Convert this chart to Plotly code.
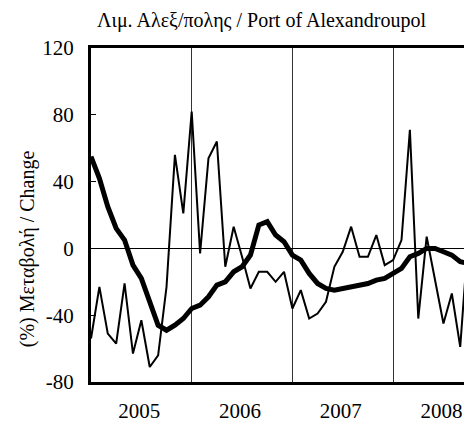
import plotly.graph_objects as go

# Monthly % change, Jan 2005 .. Oct 2008 (last points clipped by the frame)
monthly_change = [
    -54, -23, -51, -57, -21, -63, -43, -71, -64, -23, 56, 21,      # 2005
    82, -3, 54, 64, -11, 13, -5, -24, -14, -14, -20, -14,          # 2006
    -36, -25, -42, -39, -32, -11, -2, 13, -5, -5, 8, -10,          # 2007
    -7, 5, 71, -42, 7, -19, -45, -27, -59, 10,                     # 2008
]
moving_avg = [
    55, 42, 25, 12, 5, -10, -18, -33, -46, -49, -46, -42,          # 2005
    -36, -34, -29, -22, -20, -14, -11, -4, 14, 16, 8, 4,           # 2006
    -4, -7, -15, -21, -24, -25, -24, -23, -22, -21, -19, -18,      # 2007
    -15, -12, -5, -3, 0, 0, -2, -4, -8, -9,                        # 2008
]
year_labels = ["2005", "2006", "2007", "2008"]
first_year = 2005
y_ticks = [120, 80, 40, 0, -40, -80]
y_tick_text = ["120", "80", "40", "0", "-40", "-80"]

x_vals = [first_year + i / 12 for i in range(len(monthly_change))]
x_avg = [first_year + i / 12 for i in range(len(moving_avg))]

W, H = 464, 421
L, R, T, B = 91, 0, 47.5, 39

fig = go.Figure()
fig.add_trace(go.Scatter(x=x_vals, y=monthly_change, mode="lines",
                         line=dict(color="black", width=2), showlegend=False))
fig.add_trace(go.Scatter(x=x_avg, y=moving_avg, mode="lines",
                         line=dict(color="black", width=5), showlegend=False))

font_family = "Liberation Serif"
fig.update_layout(
    width=W, height=H,
    margin=dict(l=L, r=R, t=T, b=B, pad=0, autoexpand=False),
    paper_bgcolor="white", plot_bgcolor="white",
    font=dict(family=font_family, color="black", size=21),
    title=dict(text="Λιμ. Αλεξ/πολης / Port of Alexandroupol",
               x=97 / W, xanchor="left", xref="container",
               y=1 - 20 / H, yanchor="middle", yref="container",
               font=dict(family=font_family, size=20, color="black"),
               automargin=False),
)
fig.update_xaxes(
    range=[first_year, first_year + 373 / 100.7],
    tickmode="array",
    tickvals=[first_year + k + 0.48 for k in range(len(year_labels))],
    ticktext=year_labels,
    ticks="", showgrid=False, zeroline=False,
    showline=True, linecolor="black", linewidth=3, mirror=True,
    ticklabelstandoff=8, automargin=False, ticklabeloverflow="allow",
    minor=dict(tickmode="array",
               tickvals=[first_year + k for k in range(1, len(year_labels))],
               showgrid=True, gridcolor="#333333", gridwidth=1, ticks=""),
    tickfont=dict(size=21),
)
fig.update_yaxes(
    range=[-80, 120],
    tickmode="array", tickvals=y_ticks, ticktext=y_tick_text,
    ticks="inside", ticklen=5, tickwidth=1, tickcolor="black",
    showgrid=False,
    zeroline=True, zerolinecolor="black", zerolinewidth=1,
    showline=True, linecolor="black", linewidth=3, mirror=False,
    ticklabelstandoff=10, automargin=False,
    tickfont=dict(size=21),
)
fig.add_annotation(text="(%) Μεταβολή / Change", xref="paper", yref="paper",
                   x=-(L - 27) / (W - L - R), y=(H - B - 249) / (H - T - B),
                   xanchor="center", yanchor="middle", textangle=-90,
                   showarrow=False, font=dict(family=font_family, size=20, color="black"))

fig.write_html("out.html", config={"displayModeBar": False})
with open("out.html", encoding="utf-8") as f:
    html = f.read()
html = html.replace("<head>", "<head><style>html,body{margin:0;padding:0;overflow:hidden;}</style>", 1)
with open("out.html", "w", encoding="utf-8") as f:
    f.write(html)
